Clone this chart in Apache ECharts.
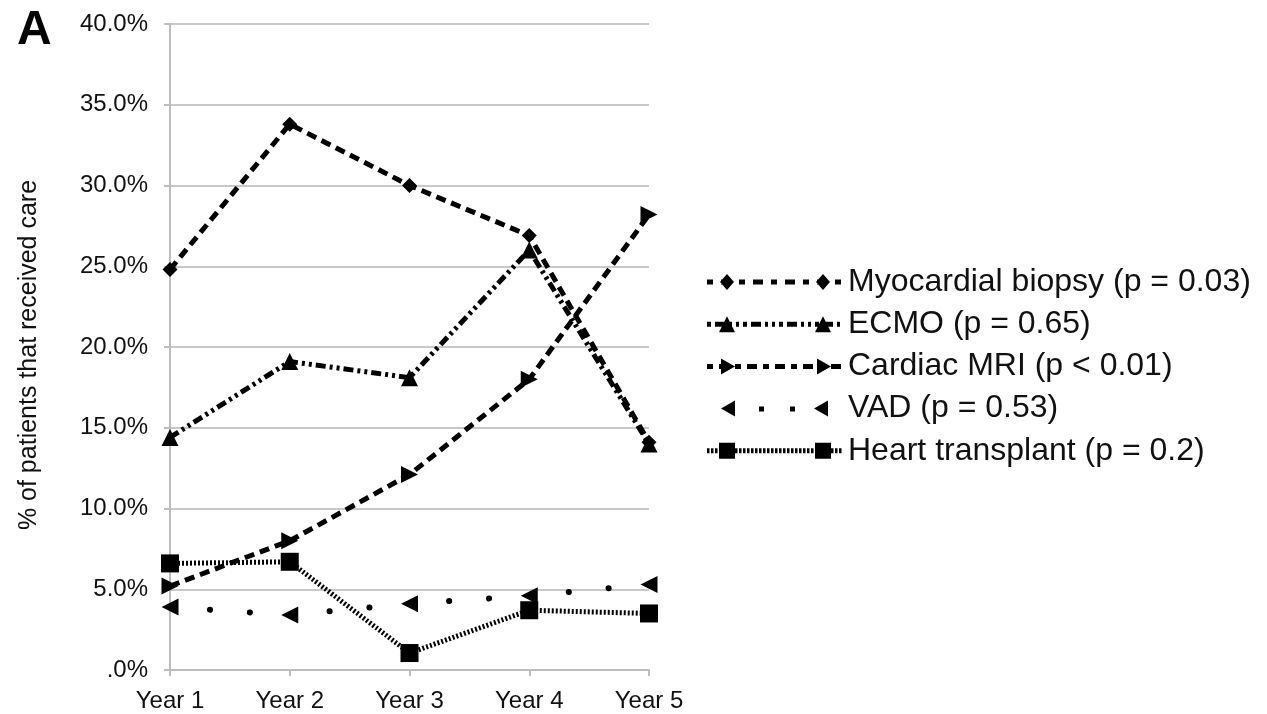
<!DOCTYPE html>
<html><head><meta charset="utf-8">
<script src="https://cdn.jsdelivr.net/npm/echarts@6/dist/echarts.min.js"></script>
<style>html,body{margin:0;padding:0;background:#fff}#c{width:1267px;height:714px}</style>
</head><body><div id="c"></div>
<script>
const categories = ['Year 1','Year 2','Year 3','Year 4','Year 5'];
const seriesNames = ['Myocardial biopsy (p = 0.03)','ECMO (p = 0.65)','Cardiac MRI (p < 0.01)','VAD (p = 0.53)','Heart transplant (p = 0.2)'];
const biopsy = [24.8, 33.8, 30.0, 26.9, 14.1];
const ecmo = [14.4, 19.1, 18.1, 26.0, 14.0];
const mri = [5.2, 8.0, 12.1, 18.0, 28.2];
const vad = [3.9, 3.4, 4.1, 4.6, 5.3];
const transplant = [6.6, 6.7, 1.05, 3.7, 3.5];
const yTicks = ['.0%','5.0%','10.0%','15.0%','20.0%','25.0%','30.0%','35.0%','40.0%'];

const font = 'Liberation Sans, Arial, sans-serif';

// ---- legend icon paths (sample line + two markers), drawn in a 136x16 box ----
const IW = 136, IH = 16, CY = 8;
function rect(x0, y0, x1, y1) { return `M${x0},${y0}L${x1},${y0}L${x1},${y1}L${x0},${y1}Z`; }
function markerPath(kind, cx) {
  switch (kind) {
    case 'diamond': return `M${cx},0L${cx+7},8L${cx},16L${cx-7},8Z`;
    case 'up': return `M${cx},0L${cx+8},16L${cx-8},16Z`;
    case 'right': return `M${cx+8},8L${cx-6},16L${cx-6},0Z`;
    case 'left': return `M${cx-8},8L${cx+6},0L${cx+6},16Z`;
    case 'square': return rect(cx-8, 0, cx+8, 16);
  }
}
function dashes(pattern, h, from, to) {
  let p = '', x = from, i = 0;
  while (x < to) {
    const len = pattern[i % pattern.length];
    if (i % 2 === 0) p += rect(x, CY - h / 2, Math.min(x + len, to), CY + h / 2);
    x += len; i++;
  }
  return p;
}
function legendIcon(kind, pattern, h) {
  const m1 = 20, m2 = 116;
  return 'path://M0,8L0,8ZM136,8L136,8Z' + dashes(pattern, h, 0, IW) + markerPath(kind, m1) + markerPath(kind, m2);
}
function vadIcon() {
  return 'path://M0,8L0,8ZM136,8L136,8Z' + markerPath('left', 22) + rect(52, 6, 57, 11) + rect(83, 6, 88, 11) + markerPath('left', 115);
}

function mk(name, data, symbol, size, rot, dash, width, cap) {
  return {
    name, type: 'line', data, symbol, symbolSize: size, symbolRotate: rot,
    showAllSymbol: true,
    itemStyle: { color: '#000' },
    lineStyle: { color: '#000', width: width, type: dash, cap: cap || 'butt' },
    emphasis: { disabled: true }, animation: false
  };
}
const chart = echarts.init(document.getElementById('c'));
chart.setOption({
  animation: false,
  title: { text: 'A', left: 12, top: 2, textStyle: { fontFamily: font, fontSize: 48, fontWeight: 'bold', color: '#000' } },
  grid: { left: 170, right: 618, top: 24, bottom: 44 },
  xAxis: {
    type: 'category', data: categories, boundaryGap: false,
    axisLine: { lineStyle: { color: '#bdbdbd', width: 2 } },
    axisTick: { show: true, length: 6, lineStyle: { color: '#bdbdbd', width: 2 } },
    axisLabel: { fontFamily: font, fontSize: 24, color: '#111', margin: 19 },
    splitLine: { show: false }
  },
  yAxis: {
    type: 'value', min: 0, max: 40, interval: 5,
    name: '% of patients that received care', nameLocation: 'middle', nameGap: 128,
    nameTextStyle: { fontFamily: font, fontSize: 25, color: '#111', padding: [0, 16, 0, 0] },
    axisLine: { show: true, lineStyle: { color: '#bdbdbd', width: 2 } },
    axisTick: { show: true, length: 6, lineStyle: { color: '#bdbdbd', width: 2 } },
    splitLine: { lineStyle: { color: '#c8c8c8', width: 2 } },
    axisLabel: { fontFamily: font, fontSize: 24, color: '#111', margin: 22,
      formatter: (v) => yTicks[Math.round(v / 5)] }
  },
  legend: {
    orient: 'vertical', left: 702, top: 261, itemWidth: IW, itemHeight: IH, itemGap: 10.2,
    symbolKeepAspect: false,
    textStyle: { fontFamily: font, fontSize: 32, lineHeight: 31, color: '#111' },
    data: [
      { name: seriesNames[0], icon: legendIcon('diamond', [6, 8, 10, 8], 5) },
      { name: seriesNames[1], icon: legendIcon('up', [4, 4, 10, 4, 3, 4, 3, 4], 5) },
      { name: seriesNames[2], icon: legendIcon('right', [6, 6, 10, 6], 5) },
      { name: seriesNames[3], icon: vadIcon() },
      { name: seriesNames[4], icon: legendIcon('square', [2.5, 1.5], 5) }
    ]
  },
  series: [
    mk(seriesNames[0], biopsy, 'diamond', 15, 0, [10, 6], 5),
    mk(seriesNames[1], ecmo, 'triangle', 17, 0, [10, 4, 3, 4, 3, 4], 5),
    mk(seriesNames[2], mri, 'triangle', 17, -90, [10, 6], 5),
    mk(seriesNames[3], vad, 'triangle', 17, 90, [0.1, 39.9], 6, 'round'),
    mk(seriesNames[4], transplant, 'rect', 18, 0, [2, 2], 5)
  ]
});
</script></body></html>
